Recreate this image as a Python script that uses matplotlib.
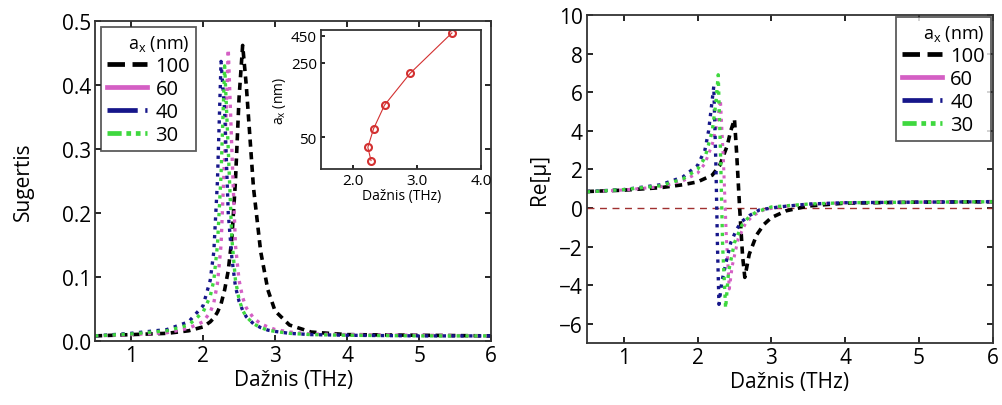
import matplotlib
matplotlib.use('Agg')
import matplotlib.pyplot as plt
from matplotlib.lines import Line2D

plt.rcParams['font.family'] = ['Open Sans', 'DejaVu Sans']
plt.rcParams['mathtext.fontset'] = 'custom'
plt.rcParams['mathtext.rm'] = 'Open Sans'

# kairys grafikas: sugertis
f_abs = [0.5, 1.0, 1.5, 1.8, 2.0, 2.1, 2.15, 2.2, 2.25, 2.3, 2.35, 2.4, 2.45,
         2.5, 2.55, 2.6, 2.7, 2.8, 2.9, 3.0, 3.2, 3.5, 4.0, 5.0, 6.0]
abs_100 = [0.008, 0.010, 0.012, 0.016, 0.022, 0.030, 0.036, 0.045, 0.058, 0.080, 0.110, 0.160, 0.250,
           0.380, 0.462, 0.400, 0.240, 0.140, 0.080, 0.047, 0.025, 0.014, 0.010, 0.009, 0.008]
abs_60 = [0.008, 0.010, 0.013, 0.020, 0.030, 0.045, 0.060, 0.090, 0.150, 0.290, 0.456, 0.300, 0.150,
          0.095, 0.068, 0.052, 0.036, 0.027, 0.022, 0.018, 0.014, 0.011, 0.010, 0.009, 0.008]
abs_40 = [0.008, 0.012, 0.018, 0.030, 0.055, 0.095, 0.140, 0.250, 0.437, 0.360, 0.200, 0.130, 0.085,
          0.062, 0.048, 0.038, 0.027, 0.021, 0.017, 0.015, 0.012, 0.010, 0.009, 0.008, 0.008]
abs_30 = [0.008, 0.011, 0.016, 0.025, 0.045, 0.070, 0.095, 0.150, 0.260, 0.430, 0.300, 0.160, 0.095,
          0.065, 0.048, 0.038, 0.027, 0.021, 0.017, 0.015, 0.012, 0.010, 0.009, 0.008, 0.008]

# desinys grafikas: Re[mu]
f_mu_100 = [0.5, 1.0, 1.5, 1.8, 2.0, 2.2, 2.3, 2.4, 2.45, 2.5, 2.53, 2.57, 2.61, 2.64, 2.7,
            2.8, 2.9, 3.0, 3.2, 3.5, 4.0, 5.0, 6.0]
mu_100 = [0.85, 0.92, 1.05, 1.2, 1.35, 1.7, 2.2, 3.2, 4.0, 4.6, 2.8, 0.0, -2.5, -3.6, -2.4,
          -1.4, -0.85, -0.5, -0.15, 0.1, 0.25, 0.3, 0.32]
f_mu_60 = [0.5, 1.0, 1.5, 1.8, 2.0, 2.1, 2.2, 2.27, 2.31, 2.35, 2.39, 2.43, 2.47, 2.55, 2.65,
           2.75, 2.9, 3.1, 3.5, 4.0, 5.0, 6.0]
mu_60 = [0.83, 0.93, 1.1, 1.4, 1.8, 2.3, 3.3, 4.5, 5.6, 2.5, -1.5, -4.2, -3.0, -1.6, -0.8,
         -0.4, -0.1, 0.05, 0.2, 0.27, 0.3, 0.32]
f_mu_40 = [0.5, 1.0, 1.5, 1.8, 2.0, 2.1, 2.15, 2.22, 2.25, 2.27, 2.29, 2.33, 2.4, 2.45, 2.53,
           2.6, 2.7, 2.84, 3.1, 3.5, 4.0, 5.0, 6.0]
mu_40 = [0.85, 0.95, 1.2, 1.6, 2.2, 3.0, 4.0, 6.3, 2.0, -2.0, -5.0, -3.8, -2.6, -1.8, -1.1,
         -0.7, -0.4, -0.1, 0.05, 0.2, 0.27, 0.3, 0.32]
f_mu_30 = [0.5, 1.0, 1.5, 1.8, 2.0, 2.1, 2.2, 2.25, 2.28, 2.31, 2.34, 2.38, 2.42, 2.5, 2.6,
           2.7, 2.8, 3.0, 3.5, 4.0, 5.0, 6.0]
mu_30 = [0.83, 0.95, 1.15, 1.5, 2.0, 2.6, 4.0, 5.5, 6.9, 3.0, -2.0, -5.2, -3.3, -1.8, -0.9,
         -0.45, -0.2, 0.05, 0.2, 0.27, 0.3, 0.32]

# intarpas: rezonanso dazniai
f_res = [2.28, 2.23, 2.32, 2.49, 2.89, 3.54]
a_res = [30, 40, 60, 100, 200, 480]

labels = ['100', '60', '40', '30']
colors = ['black', '#d45fc4', '#16168a', '#3fd83f']
leg_styles = ['--', '-', '-.', (0, (3, 1, 1, 1, 1, 1))]

fig = plt.figure(figsize=(10.03, 4.06), dpi=100)
ax1 = fig.add_axes([0.0947, 0.1576, 0.395, 0.788])
ax2 = fig.add_axes([0.585, 0.1527, 0.405, 0.808])
ins = fig.add_axes([0.320, 0.5813, 0.160, 0.342])

frame = '#333333'


def style_axes(ax, size):
    ax.tick_params(direction='in', top=True, right=True, labelsize=size,
                   length=4, width=1.2, color='black', pad=3)
    for s in ax.spines.values():
        s.set_color(frame)
        s.set_linewidth(1.3)


# kairys
ax1.plot(f_abs, abs_100, color=colors[0], ls='--', lw=2.6, dashes=(2, 1.5))
ax1.plot(f_abs, abs_60, color=colors[1], ls=':', lw=2.4)
ax1.plot(f_abs, abs_40, color=colors[2], ls=':', lw=2.4)
ax1.plot(f_abs, abs_30, color=colors[3], ls=':', lw=2.4)
ax1.set_xlim(0.5, 6)
ax1.set_ylim(0, 0.5)
ax1.set_xticks([1, 2, 3, 4, 5, 6])
ax1.set_yticks([0.0, 0.1, 0.2, 0.3, 0.4, 0.5])
ax1.set_yticklabels(['0.0', '0.1', '0.2', '0.3', '0.4', '0.5'])
style_axes(ax1, 15)
ax1.set_xlabel('Dažnis (THz)', fontsize=15, labelpad=2)
ax1.set_ylabel('Sugertis', fontsize=15, labelpad=20)

# desinys
ax2.axhline(0, color='#a03030', ls='--', lw=1.0, dashes=(5, 4))
ax2.plot(f_mu_100, mu_100, color=colors[0], ls='--', lw=2.6, dashes=(2, 1.5))
ax2.plot(f_mu_60, mu_60, color=colors[1], ls=':', lw=2.2)
ax2.plot(f_mu_40, mu_40, color=colors[2], ls=':', lw=2.4)
ax2.plot(f_mu_30, mu_30, color=colors[3], ls=':', lw=2.4)
ax2.set_xlim(0.5, 6)
ax2.set_ylim(-7, 10)
ax2.set_xticks([1, 2, 3, 4, 5, 6])
ax2.set_yticks([-6, -4, -2, 0, 2, 4, 6, 8, 10])
style_axes(ax2, 15)
ax2.set_xlabel('Dažnis (THz)', fontsize=15, labelpad=2)
ax2.set_ylabel('Re[μ]', fontsize=15, labelpad=6)

# legendos
handles = [Line2D([], [], color=c, ls=s, lw=3.4) for c, s in zip(colors, leg_styles)]
for ax, loc, pad in [(ax1, 'upper left', 0.3), (ax2, 'upper right', 0.1)]:
    leg = ax.legend(handles, labels, title=r'a$_\mathrm{x}$ (nm)', loc=loc, fontsize=14.5,
                    title_fontsize=13, frameon=True, fancybox=False,
                    handlelength=2.0, handletextpad=0.4, labelspacing=0.15,
                    borderpad=0.3, borderaxespad=pad)
    leg.get_frame().set_edgecolor(frame)
    leg.get_frame().set_linewidth(1.3)
    leg._legend_box.align = 'right'

# intarpas
ins.plot(f_res, a_res, color='#d33030', lw=0.8, marker='o', ms=5,
         mfc='none', mec='#d33030', mew=1.5)
ins.set_yscale('log')
ins.set_xlim(1.5, 4.0)
ins.set_ylim(25, 510)
ins.set_xticks([2.0, 3.0, 4.0])
ins.set_xticklabels(['2.0', '3.0', '4.0'])
ins.set_yticks([50, 250, 450])
ins.set_yticklabels(['50', '250', '450'])
ins.minorticks_off()
style_axes(ins, 11)
ins.tick_params(top=False, right=False, length=3)
ins.set_xlabel('Dažnis (THz)', fontsize=10, labelpad=0)
ins.set_ylabel(r'a$_\mathrm{x}$ (nm)', fontsize=10, labelpad=2)

fig.savefig('out.png', dpi=100)
